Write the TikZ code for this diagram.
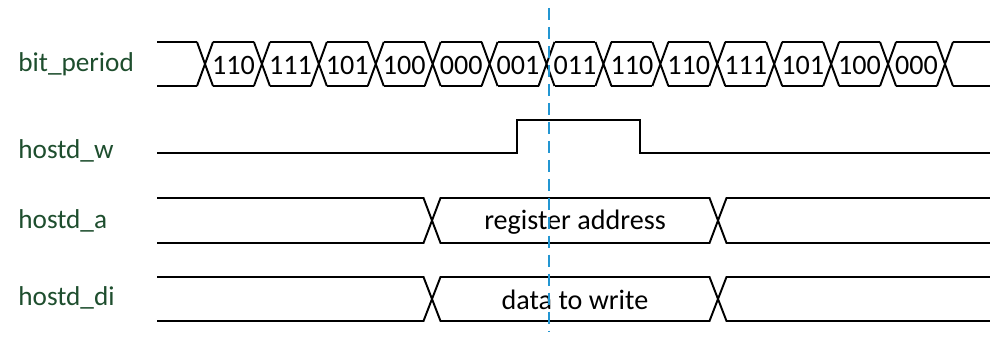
\documentclass[tikz,border=0pt]{standalone}
\usepackage{fontspec}
\setmainfont{Carlito}
\usetikzlibrary{positioning}
\definecolor{ink}{RGB}{0,0,0}
\definecolor{namegreen}{RGB}{30,78,46}
\definecolor{cursorblue}{RGB}{35,150,210}
\tikzset{
    wire/.style={
        draw=ink,
        line width=1.1pt,
        line join=miter
    },
    siglabel/.style={
        font=\fontsize{15.5}{18}\selectfont,
        text=namegreen,
        anchor=west,
        inner sep=0pt
    },
    busval/.style={
        font=\fontsize{16}{19}\selectfont,
        text=ink,
        inner sep=0pt
    },
    cursor/.style={
        draw=cursorblue,
        line width=1.1pt,
        dash pattern=on 6.8pt off 4pt
    }
}

\begin{document}
\begin{tikzpicture}[x=0.02cm, y=-0.02cm]
\useasboundingbox (0,0) rectangle (990,341);

\def\busstart{157}
\def\busend{990}
\def\hw{8}

% signal names
\node[siglabel] (bitperiod) at (18,64) {bit\_period};
\node[siglabel] (hostdw) at (18,151) {hostd\_w};
\node[siglabel] (hostda) at (18,221) {hostd\_a};
\node[siglabel] (hostddi) at (18,298) {hostd\_di};

% bit_period bus
\def\bpT{42}
\def\bpB{86}
\def\bpM{65}
\def\bpx{205}
\def\bpstep{56.92}

\draw[wire] (\busstart,\bpT) -- (\bpx-\hw,\bpT) (\busstart,\bpB) -- (\bpx-\hw,\bpB);
\foreach \k in {0,...,13} {
    \draw[wire] (\bpx+\k*\bpstep-\hw,\bpT) -- (\bpx+\k*\bpstep+\hw,\bpB)
                (\bpx+\k*\bpstep-\hw,\bpB) -- (\bpx+\k*\bpstep+\hw,\bpT);
}
\foreach \k in {0,...,12} {
    \draw[wire] (\bpx+\k*\bpstep+\hw,\bpT) -- (\bpx+\k*\bpstep+\bpstep-\hw,\bpT)
                (\bpx+\k*\bpstep+\hw,\bpB) -- (\bpx+\k*\bpstep+\bpstep-\hw,\bpB);
}
\draw[wire] (\bpx+13*\bpstep+\hw,\bpT) -- (\busend,\bpT)
            (\bpx+13*\bpstep+\hw,\bpB) -- (\busend,\bpB);

\foreach \k/\v in {0/110,1/111,2/101,3/100,4/000,5/001,6/011,7/110,8/110,9/111,10/101,11/100,12/000} {
    \node[busval] (bp\k) at (\bpx+\k*\bpstep+\bpstep/2,\bpM) {\v};
}

% hostd_w pulse
\draw[wire] (\busstart,153) -- (517,153) -- (517,120) -- (640,120) -- (640,153) -- (\busend,153);

% hostd_a and hostd_di buses
\def\xa{432}
\def\xb{718}
\def\hwb{8.5}
\foreach \t/\b in {198/243,277/321} {
    \draw[wire] (\busstart,\t) -- (\xa-\hwb,\t) -- (\xa+\hwb,\b) -- (\xb-\hwb,\b) -- (\xb+\hwb,\t) -- (\busend,\t);
    \draw[wire] (\busstart,\b) -- (\xa-\hwb,\b) -- (\xa+\hwb,\t) -- (\xb-\hwb,\t) -- (\xb+\hwb,\b) -- (\busend,\b);
}
\node[busval] (regaddr) at (575,222) {register address};
\node[busval] (wrdata) at (575,300) {data to write};

% cursor
\draw[cursor] (549,8) -- (549,332);

\end{tikzpicture}
\end{document}
